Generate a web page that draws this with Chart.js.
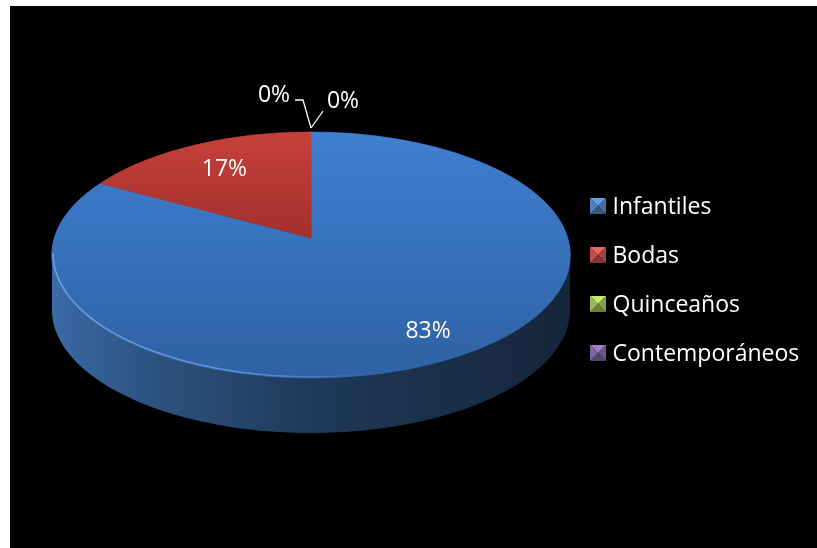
<!DOCTYPE html>
<html>
<head>
<meta charset="utf-8">
<title>Tipos de eventos</title>
<script src="https://cdn.jsdelivr.net/npm/chart.js@4.4.1/dist/chart.umd.min.js"></script>
<style>
  html, body { margin: 0; padding: 0; background: #fff; }
  #frame { position: absolute; left: 10px; top: 6px; width: 807px; height: 542px; background: #000; }
</style>
</head>
<body>
<div id="frame"><canvas id="pie"></canvas></div>
<script>
const categories = ["Infantiles", "Bodas", "Quinceaños", "Contemporáneos"];
const shares = [83, 17, 0, 0];

// top face gradient (back rim -> centre -> front rim), side wall base and legend swatch per slice
const topColors = [
    ["#3f80d0", "#3873bf", "#2f62a4"],
    ["#c8413b", "#a3302d", "#8f2826"],
    ["#a6c964", "#8fb04f", "#7a9842"],
    ["#8a6db0", "#76599c", "#634a85"]
];
const sideColors = ["#3f72b2", "#b5403a", "#8aa84f", "#72579a"];
const legendColors = ["#4f81bd", "#c0504d", "#9bbb59", "#8064a2"];

function rgb(hex) {
    let n = parseInt(hex.slice(1), 16);
    return [n >> 16, (n >> 8) & 255, n & 255];
}

function shade(hex, f) {
    let [r, g, b] = rgb(hex).map(c => Math.max(0, Math.min(255, Math.round(c * f))));
    return `rgb(${r},${g},${b})`;
}

function topFill(c) {
    let chart = c.chart;
    let area = chart.chartArea;
    let stops = topColors[c.dataIndex];
    if (!area) return stops[1];
    let r = Math.min(area.width, area.height) / 2;
    let cy = (area.top + area.bottom) / 2;
    let g = chart.ctx.createLinearGradient(0, cy - r, 0, cy + r);
    g.addColorStop(0, stops[0]);
    g.addColorStop(0.5, stops[1]);
    g.addColorStop(1, stops[2]);
    return g;
}

// perspective view of the pie: circle -> tilted disc with a thick side wall
function view(chart, o) {
    let arc = chart.getDatasetMeta(0).data[0];
    let u = (o.front - o.back) / (o.front + o.back);
    return {
        x0: arc.x, y0: arc.y, R: arc.outerRadius, u: u,
        aR: o.halfWidth * Math.sqrt(1 - u * u),
        bR: o.back * (1 + u),
        depth: o.depth, halfWidth: o.halfWidth
    };
}

function project(v, ang, f = 1) {
    let n = f * Math.sin(ang);
    let w = 1 - v.u * n;
    return [v.x0 + v.aR * f * Math.cos(ang) / w, v.y0 + v.bR * n / w];
}

const pie3d = {
    id: "pie3d",
    beforeDatasetsDraw(chart, args, o) {
        let ctx = chart.ctx;
        let meta = chart.getDatasetMeta(0);
        let v = view(chart, o);
        let tR = Math.asin(v.u), tL = Math.PI - tR;

        // side wall, only the front half is visible
        meta.data.forEach((arc, i) => {
            let a0 = Math.max(arc.startAngle, tR);
            let a1 = Math.min(arc.endAngle, tL);
            if (a1 <= a0) return;
            let steps = 160;
            ctx.save();
            ctx.beginPath();
            for (let s = 0; s <= steps; s++) {
                let [x, y] = project(v, a0 + (a1 - a0) * s / steps);
                s ? ctx.lineTo(x, y - 2) : ctx.moveTo(x, y - 2);
            }
            for (let s = steps; s >= 0; s--) {
                let [x, y] = project(v, a0 + (a1 - a0) * s / steps);
                ctx.lineTo(x, y + v.depth);
            }
            ctx.closePath();
            let g = ctx.createLinearGradient(v.x0 - v.halfWidth, 0, v.x0 + v.halfWidth, 0);
            [[0, 0.93], [0.06, 0.86], [0.2, 0.72], [0.5, 0.5], [0.75, 0.41], [1, 0.33]].forEach(([p, f]) => {
                g.addColorStop(p, shade(sideColors[i], f));
            });
            ctx.fillStyle = g;
            ctx.fill();
            ctx.restore();
        });

        // top face: one pixel row at a time, each row gets the local perspective scale
        let first = Math.floor(v.y0 - o.back) - 2;
        let last = Math.ceil(v.y0 + o.front) + 2;
        for (let row = first; row < last; row++) {
            let s = row + 0.5 - v.y0;
            let n = s / (v.bR + v.u * s);
            let w = 1 - v.u * n;
            let sx = v.aR / (v.R * w);
            let sy = v.bR / (v.R * w * w);
            ctx.save();
            ctx.beginPath();
            ctx.rect(0, row, chart.width, 1);
            ctx.clip();
            ctx.transform(sx, 0, 0, sy, v.x0 - sx * v.x0, v.y0 + s - sy * (v.y0 + n * v.R));
            meta.data.forEach(arc => arc.draw(ctx));
            ctx.restore();
        }

        // light bevel along the front rim, strongest on the left
        ctx.save();
        let hl = ctx.createLinearGradient(v.x0 - v.halfWidth, 0, v.x0 + v.halfWidth, 0);
        hl.addColorStop(0, "rgba(125,175,240,0.8)");
        hl.addColorStop(0.4, "rgba(125,175,240,0.55)");
        hl.addColorStop(0.62, "rgba(125,175,240,0)");
        ctx.strokeStyle = hl;
        ctx.lineWidth = 1.5;
        ctx.beginPath();
        for (let s = 0; s <= 240; s++) {
            let [x, y] = project(v, tL - (tL - tR) * s / 240);
            let dx = Math.cos(tL - (tL - tR) * s / 240);
            s ? ctx.lineTo(x - dx * 1.2, y - 1.2) : ctx.moveTo(x - dx * 1.2, y - 1.2);
        }
        ctx.stroke();
        ctx.restore();
        return false;
    },
    afterDraw(chart, args, o) {
        let ctx = chart.ctx;
        let meta = chart.getDatasetMeta(0);
        let v = view(chart, o);
        let total = shares.reduce((a, b) => a + b, 0);

        ctx.save();
        ctx.font = o.font;
        ctx.fillStyle = "#fff";
        ctx.strokeStyle = "#fff";
        ctx.lineWidth = 1.3;
        ctx.textAlign = "center";
        ctx.textBaseline = "middle";
        let zeros = 0;
        meta.data.forEach((arc, i) => {
            let text = Math.round(shares[i] / total * 100) + "%";
            if (shares[i] > 0) {
                let [x, y] = project(v, (arc.startAngle + arc.endAngle) / 2, o.labelRadius[i]);
                ctx.fillText(text, x, y);
                return;
            }
            // empty slices get a callout above the rim
            let [ax, ay] = project(v, arc.startAngle);
            let c = o.callouts[zeros++ % o.callouts.length];
            ctx.beginPath();
            c.line.forEach(([dx, dy], k) => k ? ctx.lineTo(ax + dx, ay + dy) : ctx.moveTo(ax + dx, ay + dy));
            ctx.stroke();
            ctx.fillText(text, ax + c.text[0], ay + c.text[1]);
        });
        ctx.restore();

        // legend
        let lg = o.legend;
        ctx.save();
        ctx.font = o.font;
        ctx.textBaseline = "middle";
        ctx.textAlign = "left";
        categories.forEach((name, i) => {
            let cy = lg.top + i * lg.step;
            let x = lg.x, y = cy - lg.box / 2, b = lg.box, m = b / 2;
            let base = legendColors[i];
            let faces = [
                [[x, y], [x + b, y], [x + m, y + m], 1.25],
                [[x + b, y], [x + b, y + b], [x + m, y + m], 0.85],
                [[x + b, y + b], [x, y + b], [x + m, y + m], 0.68],
                [[x, y + b], [x, y], [x + m, y + m], 1.0]
            ];
            faces.forEach(([p1, p2, p3, f]) => {
                ctx.beginPath();
                ctx.moveTo(...p1);
                ctx.lineTo(...p2);
                ctx.lineTo(...p3);
                ctx.closePath();
                ctx.fillStyle = shade(base, f);
                ctx.fill();
            });
            ctx.fillStyle = "#fff";
            ctx.fillText(name, x + lg.textGap, cy + 1);
        });
        ctx.restore();
    }
};

function draw() {
    new Chart(document.getElementById("pie"), {
        type: "pie",
        data: {
            labels: categories,
            datasets: [{
                data: shares,
                backgroundColor: topFill,
                borderColor: topFill,
                borderWidth: 1
            }]
        },
        options: {
            responsive: true,
            maintainAspectRatio: false,
            animation: false,
            events: [],
            layout: { padding: { left: 0, top: 0, right: 205, bottom: 78 } },
            plugins: {
                legend: { display: false },
                tooltip: { enabled: false },
                pie3d: {
                    back: 106,
                    front: 140,
                    halfWidth: 259,
                    depth: 55,
                    font: '23px "Open Sans"',
                    labelRadius: [0.81, 0.72, 1, 1],
                    callouts: [
                        { line: [[-16, -32], [-8, -32], [0, -4]], text: [-37, -37] },
                        { line: [[0, -4], [12, -21]], text: [32, -31] }
                    ],
                    legend: { x: 580, top: 200, step: 49, box: 16, textGap: 22.5 }
                }
            }
        },
        plugins: [pie3d]
    });
}

document.fonts.load('23px "Open Sans"').then(draw, draw);
</script>
</body>
</html>
